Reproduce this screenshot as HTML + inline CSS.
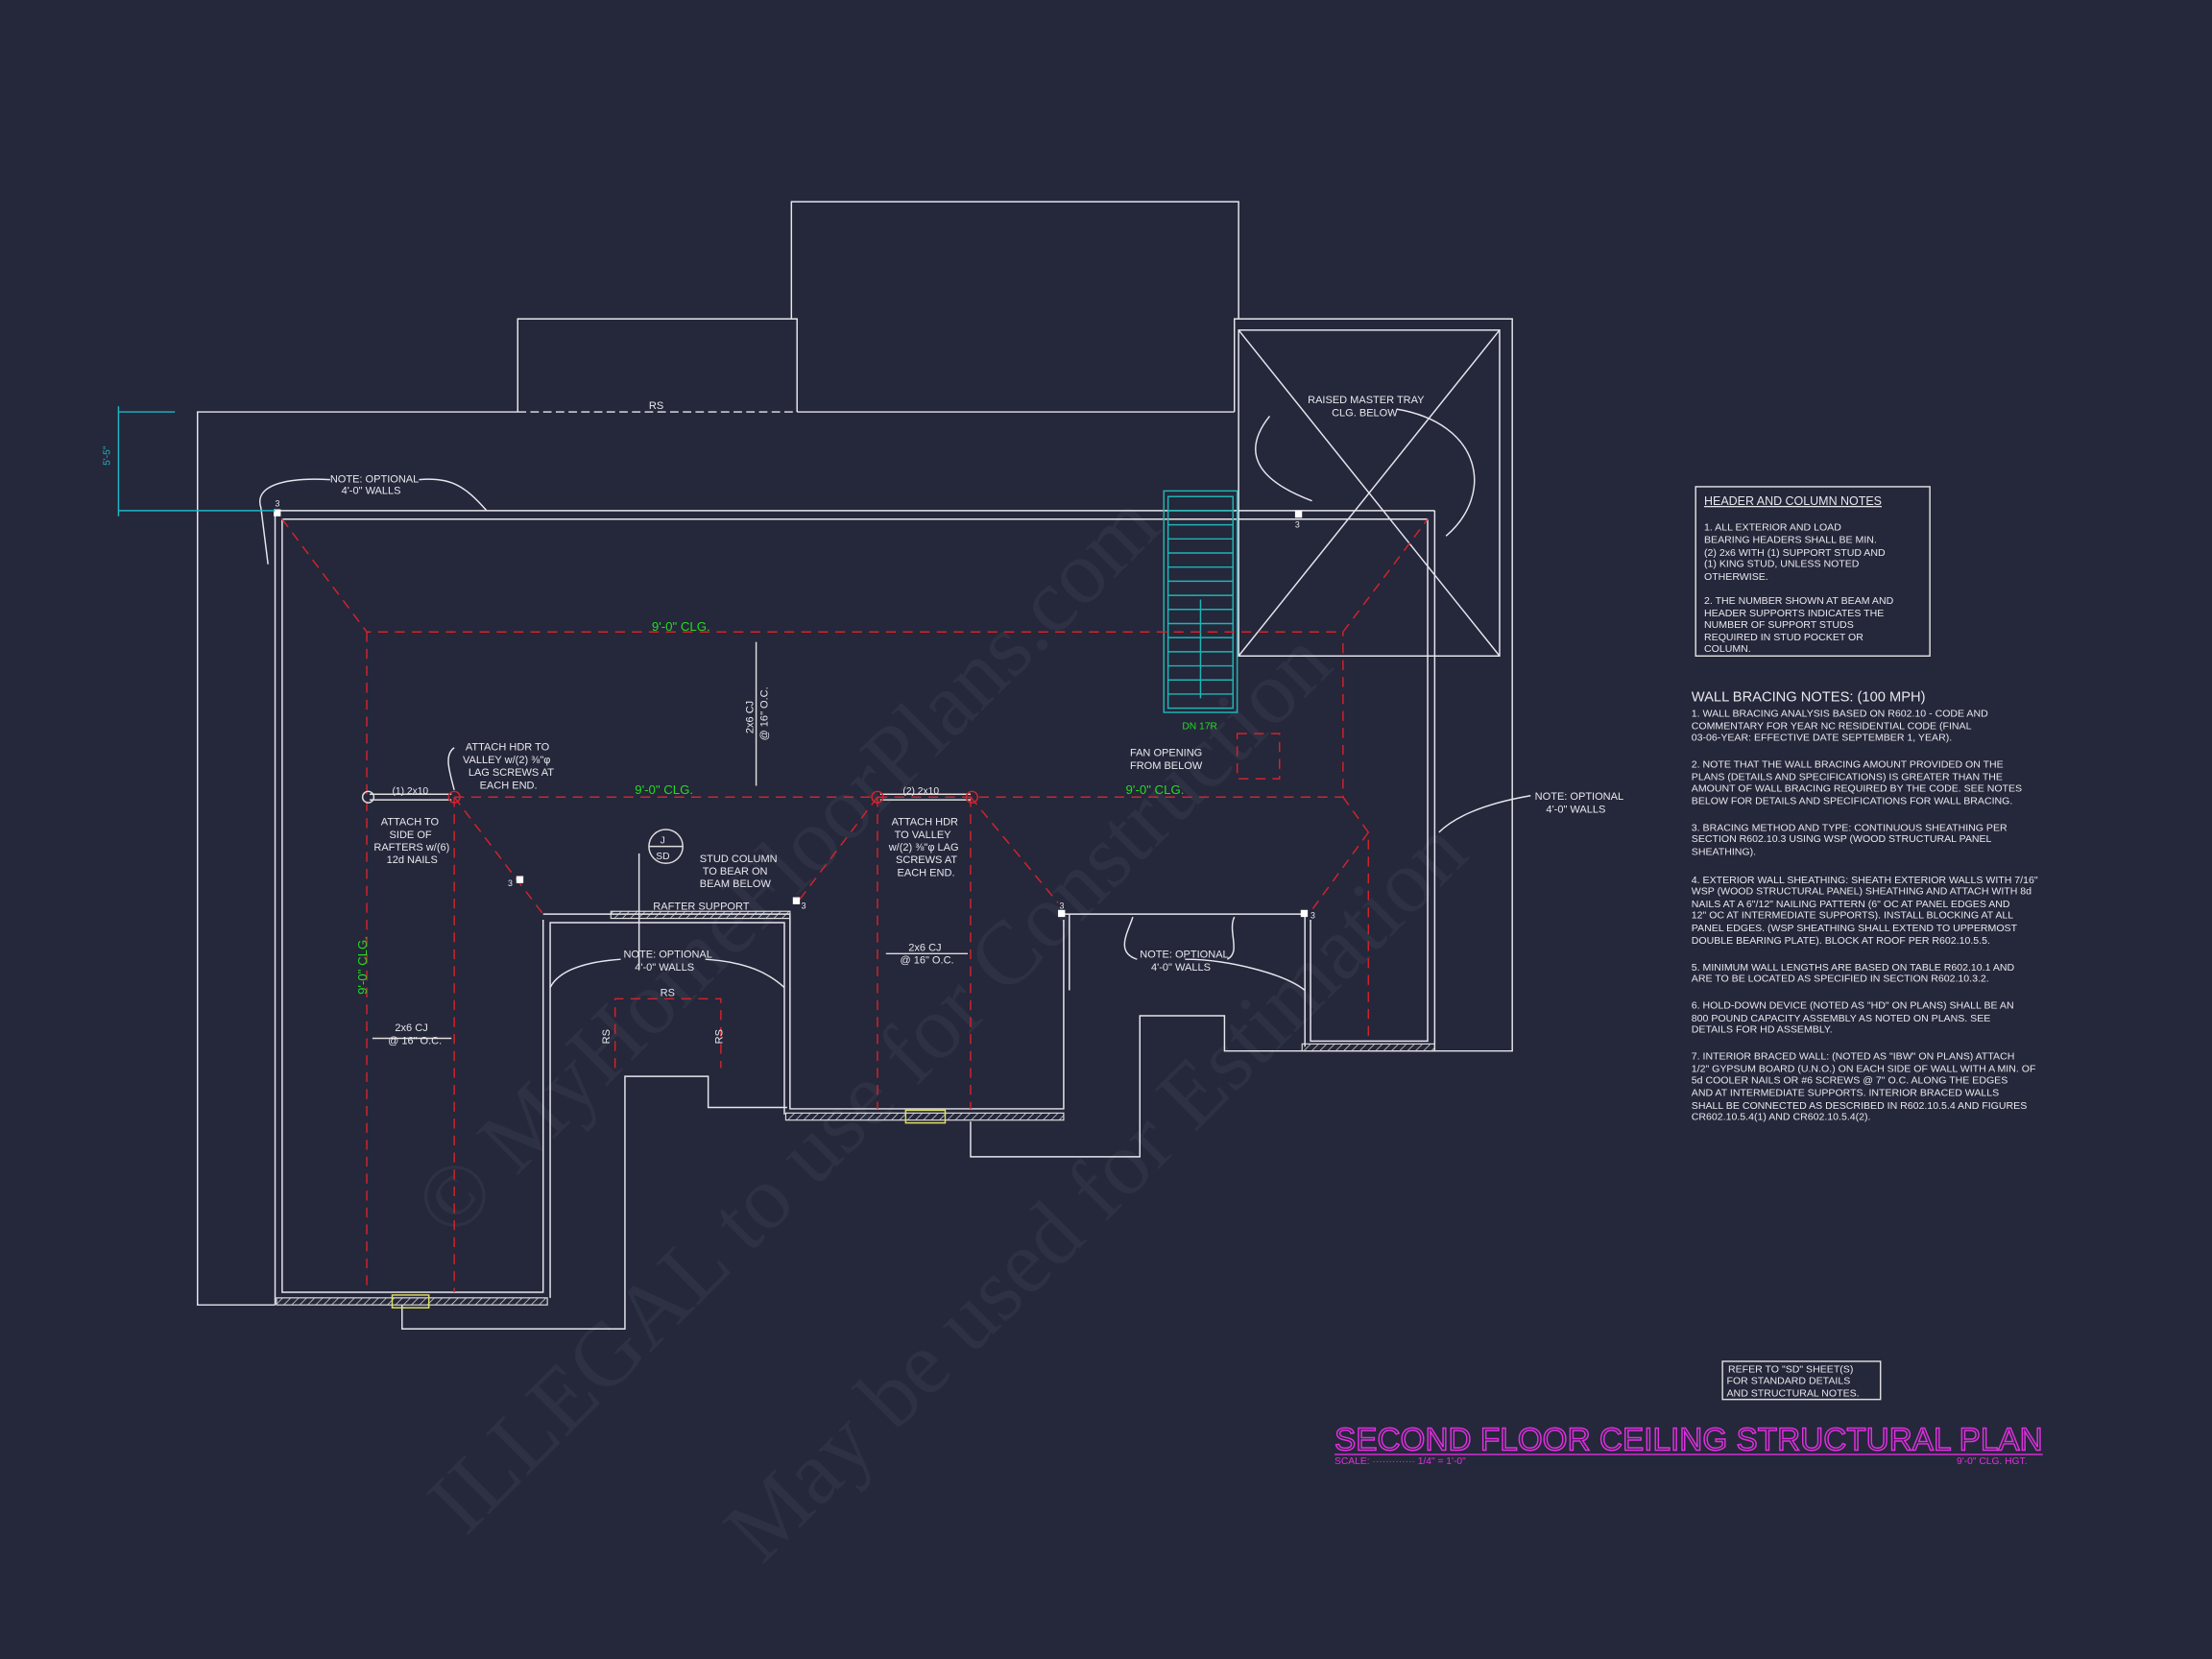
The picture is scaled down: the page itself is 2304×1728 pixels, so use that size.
<!DOCTYPE html>
<html><head><meta charset="utf-8"><style>
html,body{margin:0;padding:0;background:#25273a;}
svg{display:block}
text{font-family:"Liberation Sans",sans-serif;fill:#e8e8ee}
</style></head><body>
<svg width="2304" height="1728" viewBox="0 0 1568 1176" xmlns="http://www.w3.org/2000/svg">
<defs>
<pattern id="h" width="4" height="4" patternUnits="userSpaceOnUse" patternTransform="rotate(45)"><line x1="0" y1="0" x2="0" y2="4" stroke="#ddd" stroke-width="1"/></pattern>
</defs>
<rect width="1568" height="1176" fill="#25273a"/>
<g font-size="64" font-family="Liberation Serif">
<text x="0" y="0" transform="translate(320,880) rotate(-45)" style="fill:#2e3144;font-family:'Liberation Serif'">© MyHomeFloorPlans.com</text>
<text x="0" y="0" transform="translate(330,1090) rotate(-45)" style="fill:#2e3144;font-family:'Liberation Serif'">ILLEGAL to use for Construction</text>
<text x="0" y="0" transform="translate(540,1110) rotate(-45)" style="fill:#2e3144;font-family:'Liberation Serif'">May be used for Estimation</text>
</g>
<g stroke="#e6e6ee" stroke-width="1" fill="none">
<polyline points="561,226 561,143 878,143 878,226"/>
<polyline points="367,292 367,226 565,226 565,292"/>
<line x1="367" y1="292" x2="565" y2="292" stroke-dasharray="6,3"/>
<polyline points="367,292 140,292 140,925 195,925"/>
<polyline points="565,292 875,292"/>
<polyline points="285,925 285,942 443,942 443,763 502,763 502,785 558,785"/>
<polyline points="688,795 688,820 808,820 808,720 868,720 868,745 1072,745 1072,226 875,226 875,292"/>
<line x1="195" y1="362" x2="1017" y2="362"/>
<line x1="200" y1="368" x2="1012" y2="368"/>
<polyline points="195,362 195,925"/>
<polyline points="200,368 200,916 385,916 385,652"/>
<polyline points="390,920 390,654 556,654 556,790"/>
<polyline points="385,648 560,648 560,786 754,786 754,652"/>
<polyline points="758,648 758,702"/>
<polyline points="754,648 925,648 925,742"/>
<polyline points="929,652 929,738 1012,738 1012,368"/>
<line x1="1017" y1="362" x2="1017" y2="745"/>
<rect x="878" y="234" width="185" height="231"/>
<line x1="878" y1="234" x2="1063" y2="465"/>
<line x1="1063" y1="234" x2="878" y2="465"/>
<path d="M234,340 C200,338 180,345 185,360 L190,400"/>
<path d="M297,340 C320,338 330,345 345,362"/>
<path d="M1085,564 C1050,570 1030,580 1020,590"/>
<path d="M440,680 C410,682 395,690 390,700"/>
<path d="M500,680 C530,682 545,690 556,700"/>
<path d="M806,680 C790,675 800,660 803,650"/>
<path d="M870,680 C880,675 870,660 875,650"/>
<path d="M840,680 C870,680 910,690 925,702"/>
<path d="M453,605 L453,686"/>
<path d="M900,295 C880,320 890,340 930,355"/>
<path d="M990,290 C1050,300 1060,350 1025,380"/>
<path d="M322,530 C315,535 318,545 322,560"/>
</g>
<g fill="url(#h)" stroke="#ddd" stroke-width="0.8">
<rect x="196" y="920" width="192" height="5"/>
<rect x="433" y="646" width="127" height="5"/>
<rect x="557" y="789" width="197" height="5"/>
<rect x="923" y="740" width="94" height="5"/>
</g>
<rect x="278" y="918" width="26" height="9" fill="none" stroke="#e0e060" stroke-width="1"/>
<rect x="642" y="787" width="28" height="9" fill="none" stroke="#e0e060" stroke-width="1"/>
<g stroke="#1fb5b5" stroke-width="1" fill="none">
<rect x="825" y="348" width="52" height="157"/>
<rect x="828" y="352" width="46" height="150"/>
<path d="M828,362h46M828,372h46M828,382h46M828,392h46M828,402h46M828,412h46M828,422h46M828,432h46M828,442h46M828,452h46M828,462h46M828,472h46M828,482h46M828,492h46"/>
<line x1="851" y1="495" x2="851" y2="425"/>
</g>
<g stroke="#d0242c" stroke-width="1" fill="none" stroke-dasharray="7,5">
<polyline points="200,368 260,448 952,448 1012,368"/>
<line x1="260" y1="448" x2="260" y2="916"/>
<polyline points="322,565 952,565 952,448"/>
<polyline points="952,565 970,590 970,738"/>
<line x1="322" y1="565" x2="322" y2="916"/>
<line x1="322" y1="565" x2="385" y2="648"/>
<line x1="622" y1="565" x2="565" y2="640"/>
<line x1="688" y1="565" x2="750" y2="640"/>
<line x1="970" y1="590" x2="930" y2="645"/>
<line x1="622" y1="565" x2="622" y2="786"/>
<line x1="688" y1="565" x2="688" y2="786"/>
<rect x="877" y="520" width="30" height="32"/>
<polyline points="436,757 436,708 511,708 511,757"/>
</g>
<g stroke="#ddd" fill="none" stroke-width="1">
<line x1="262" y1="563" x2="320" y2="563"/><line x1="262" y1="567" x2="320" y2="567"/>
<line x1="624" y1="563" x2="688" y2="563"/><line x1="624" y1="567" x2="688" y2="567"/>
<circle cx="261" cy="565" r="4"/>
<circle cx="322" cy="565" r="4" stroke="#d0242c"/>
<circle cx="622" cy="565" r="4" stroke="#d0242c"/>
<circle cx="689" cy="565" r="4" stroke="#d0242c"/>
<circle cx="472" cy="600" r="12"/><line x1="460" y1="600" x2="484" y2="600"/>
<line x1="536" y1="455" x2="536" y2="557"/>
<line x1="628" y1="676" x2="686" y2="676"/>
<line x1="264" y1="736" x2="320" y2="736"/>
</g>
<g fill="#fff">
<rect x="194" y="361" width="5" height="5"/><rect x="366" y="621" width="5" height="5"/><rect x="562" y="636" width="5" height="5"/>
<rect x="918" y="362" width="5" height="5"/><rect x="750" y="645" width="5" height="5"/><rect x="922" y="645" width="5" height="5"/>
</g>
<g stroke="#1fb5c5" fill="none"><line x1="84" y1="292" x2="124" y2="292"/><line x1="84" y1="362" x2="195" y2="362"/><line x1="84" y1="288" x2="84" y2="366"/></g>
<text x="78" y="330" font-size="7" style="fill:#1fb5c5" transform="rotate(-90 78 330)">5'-5"</text>
<g font-size="7.5">
<text x="460" y="290">RS</text>
<text x="234" y="342">NOTE: OPTIONAL</text><text x="242" y="350">4'-0" WALLS</text>
<text x="195" y="359" font-size="6">3</text><text x="360" y="628" font-size="6">3</text><text x="568" y="644" font-size="6">3</text>
<text x="918" y="374" font-size="6">3</text><text x="751" y="644" font-size="6">3</text><text x="929" y="651" font-size="6">3</text>
<text x="927" y="286">RAISED MASTER TRAY</text><text x="944" y="295">CLG. BELOW</text>
<text x="330" y="532">ATTACH HDR TO</text><text x="328" y="541">VALLEY w/(2) ⅜"φ</text><text x="332" y="550">LAG SCREWS AT</text><text x="340" y="559">EACH END.</text>
<text x="278" y="563" font-size="7">(1) 2x10</text>
<text x="270" y="585">ATTACH TO</text><text x="276" y="594">SIDE OF</text><text x="265" y="603">RAFTERS w/(6)</text><text x="274" y="612">12d NAILS</text>
<text x="640" y="563" font-size="7">(2) 2x10</text>
<text x="632" y="585">ATTACH HDR</text><text x="634" y="594">TO VALLEY</text><text x="630" y="603">w/(2) ⅜"φ LAG</text><text x="635" y="612">SCREWS AT</text><text x="636" y="621">EACH END.</text>
<text x="468" y="598" font-size="7">J</text><text x="465" y="609" font-size="7">SD</text>
<text x="496" y="611">STUD COLUMN</text><text x="498" y="620">TO BEAR ON</text><text x="496" y="629">BEAM BELOW</text>
<text x="463" y="645">RAFTER SUPPORT</text>
<text x="442" y="679">NOTE: OPTIONAL</text><text x="450" y="688">4'-0" WALLS</text>
<text x="808" y="679">NOTE: OPTIONAL</text><text x="816" y="688">4'-0" WALLS</text>
<text x="1088" y="567">NOTE: OPTIONAL</text><text x="1096" y="576">4'-0" WALLS</text>
<text x="801" y="536">FAN OPENING</text><text x="801" y="545">FROM BELOW</text>
<text x="468" y="706">RS</text>
<text x="280" y="731">2x6 CJ</text><text x="275" y="740">@ 16" O.C.</text>
<text x="644" y="674">2x6 CJ</text><text x="638" y="683">@ 16" O.C.</text>
<text x="534" y="520" transform="rotate(-90 534 520)">2x6 CJ</text>
<text x="544" y="525" transform="rotate(-90 544 525)">@ 16" O.C.</text>
<text x="432" y="740" transform="rotate(-90 432 740)">RS</text>
<text x="512" y="740" transform="rotate(-90 512 740)">RS</text>
</g>
<g font-size="9">
<text x="462" y="447" style="fill:#22dd22">9'-0" CLG.</text>
<text x="450" y="563" style="fill:#22dd22">9'-0" CLG.</text>
<text x="798" y="563" style="fill:#22dd22">9'-0" CLG.</text>
<text x="838" y="517" font-size="7" style="fill:#22dd22">DN 17R</text>
<text x="260" y="705" transform="rotate(-90 260 705)" style="fill:#22dd22">9'-0" CLG.</text>
</g>
<rect x="1202" y="345" width="166" height="120" fill="none" stroke="#ddd"/>
<g font-size="7.2">
<text x="1208" y="358" font-size="8.5" text-decoration="underline">HEADER AND COLUMN NOTES</text>
<text x="1208" y="376">1. ALL EXTERIOR AND LOAD</text>
<text x="1208" y="385">BEARING HEADERS SHALL BE MIN.</text>
<text x="1208" y="394">(2) 2x6 WITH (1) SUPPORT STUD AND</text>
<text x="1208" y="402">(1) KING STUD, UNLESS NOTED</text>
<text x="1208" y="411">OTHERWISE.</text>
<text x="1208" y="428">2. THE NUMBER SHOWN AT BEAM AND</text>
<text x="1208" y="437">HEADER SUPPORTS INDICATES THE</text>
<text x="1208" y="445">NUMBER OF SUPPORT STUDS</text>
<text x="1208" y="454">REQUIRED IN STUD POCKET OR</text>
<text x="1208" y="462">COLUMN.</text>
</g>
<g font-size="7.2">
<text x="1199" y="497" font-size="10">WALL BRACING NOTES: (100 MPH)</text>
<text x="1199" y="508">1. WALL BRACING ANALYSIS BASED ON R602.10 - CODE AND</text>
<text x="1199" y="517">COMMENTARY FOR YEAR NC RESIDENTIAL CODE (FINAL</text>
<text x="1199" y="525">03-06-YEAR: EFFECTIVE DATE SEPTEMBER 1, YEAR).</text>
<text x="1199" y="544">2. NOTE THAT THE WALL BRACING AMOUNT PROVIDED ON THE</text>
<text x="1199" y="553">PLANS (DETAILS AND SPECIFICATIONS) IS GREATER THAN THE</text>
<text x="1199" y="561">AMOUNT OF WALL BRACING REQUIRED BY THE CODE. SEE NOTES</text>
<text x="1199" y="570">BELOW FOR DETAILS AND SPECIFICATIONS FOR WALL BRACING.</text>
<text x="1199" y="589">3. BRACING METHOD AND TYPE: CONTINUOUS SHEATHING PER</text>
<text x="1199" y="597">SECTION R602.10.3 USING WSP (WOOD STRUCTURAL PANEL</text>
<text x="1199" y="606">SHEATHING).</text>
<text x="1199" y="626">4. EXTERIOR WALL SHEATHING: SHEATH EXTERIOR WALLS WITH 7/16"</text>
<text x="1199" y="634">WSP (WOOD STRUCTURAL PANEL) SHEATHING AND ATTACH WITH 8d</text>
<text x="1199" y="643">NAILS AT A 6"/12" NAILING PATTERN (6" OC AT PANEL EDGES AND</text>
<text x="1199" y="651">12" OC AT INTERMEDIATE SUPPORTS). INSTALL BLOCKING AT ALL</text>
<text x="1199" y="660">PANEL EDGES. (WSP SHEATHING SHALL EXTEND TO UPPERMOST</text>
<text x="1199" y="669">DOUBLE BEARING PLATE). BLOCK AT ROOF PER R602.10.5.5.</text>
<text x="1199" y="688">5. MINIMUM WALL LENGTHS ARE BASED ON TABLE R602.10.1 AND</text>
<text x="1199" y="696">ARE TO BE LOCATED AS SPECIFIED IN SECTION R602.10.3.2.</text>
<text x="1199" y="715">6. HOLD-DOWN DEVICE (NOTED AS "HD" ON PLANS) SHALL BE AN</text>
<text x="1199" y="724">800 POUND CAPACITY ASSEMBLY AS NOTED ON PLANS. SEE</text>
<text x="1199" y="732">DETAILS FOR HD ASSEMBLY.</text>
<text x="1199" y="751">7. INTERIOR BRACED WALL: (NOTED AS "IBW" ON PLANS) ATTACH</text>
<text x="1199" y="760">1/2" GYPSUM BOARD (U.N.O.) ON EACH SIDE OF WALL WITH A MIN. OF</text>
<text x="1199" y="768">5d COOLER NAILS OR #6 SCREWS @ 7" O.C. ALONG THE EDGES</text>
<text x="1199" y="777">AND AT INTERMEDIATE SUPPORTS. INTERIOR BRACED WALLS</text>
<text x="1199" y="786">SHALL BE CONNECTED AS DESCRIBED IN R602.10.5.4 AND FIGURES</text>
<text x="1199" y="794">CR602.10.5.4(1) AND CR602.10.5.4(2).</text>
</g>
<rect x="1221" y="965" width="112" height="27" fill="none" stroke="#ddd"/>
<g font-size="7.2">
<text x="1225" y="973">REFER TO "SD" SHEET(S)</text>
<text x="1224" y="981">FOR STANDARD DETAILS</text>
<text x="1224" y="990">AND STRUCTURAL NOTES.</text>
</g>
<text x="946" y="1028" font-size="23" textLength="502" lengthAdjust="spacingAndGlyphs" style="fill:none;stroke:#e030e0;stroke-width:1">SECOND FLOOR CEILING STRUCTURAL PLAN</text>
<line x1="946" y1="1031" x2="1448" y2="1031" stroke="#e030e0"/>
<text x="946" y="1038" font-size="7" style="fill:#e030e0">SCALE: ············· 1/4" = 1'-0"</text>
<text x="1387" y="1038" font-size="7" style="fill:#e030e0">9'-0" CLG. HGT.</text>
</svg>
</body></html>
